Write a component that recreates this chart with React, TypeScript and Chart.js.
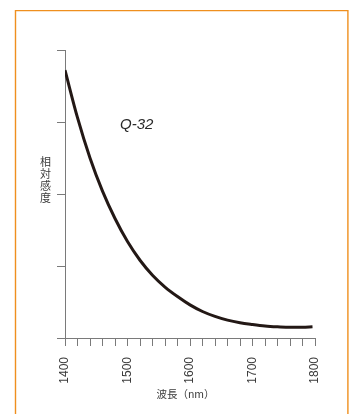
import React, { useEffect, useRef } from 'react';
import { Chart, registerables } from 'chart.js';

Chart.register(...registerables);

// Data
const wavelengths = [1400, 1420, 1440, 1460, 1480, 1500, 1520, 1540, 1560, 1580, 1600, 1620, 1640, 1660, 1680, 1700, 1720, 1740, 1760, 1780, 1796];
const sensitivity = [93, 76.5, 62.5, 51, 41.5, 33.5, 27, 21.8, 17.7, 14.4, 11.5, 9.2, 7.5, 6.2, 5.3, 4.7, 4.2, 3.9, 3.7, 3.7, 3.9];
const xMajorLabels = ['1400', '1500', '1600', '1700', '1800'];
const yTitleChars = ['相', '対', '感', '度'];
const xTitle = '波長（nm）';
const seriesName = 'Q-32';
const seriesLabelPos = { x: 1488, y: 74 };

const AXIS_COLOR = '#7a7a7a';
const TEXT_COLOR = '#3a3a3a';
const FRAME_COLOR = '#ef8f1e';

const textPlugin = {
  id: 'refTexts',
  afterDraw(chart: any) {
    const { ctx, chartArea, scales } = chart;
    const x = scales.x;
    const y = scales.y;
    ctx.save();
    // frame
    ctx.strokeStyle = FRAME_COLOR;
    ctx.lineWidth = 1.4;
    ctx.beginPath();
    ctx.moveTo(15.5, 430);
    ctx.lineTo(15.5, 10.6);
    ctx.lineTo(347.9, 10.6);
    ctx.lineTo(347.9, 430);
    ctx.stroke();

    // y title, stacked vertically
    ctx.fillStyle = TEXT_COLOR;
    ctx.font = '11px "Noto Sans CJK JP"';
    ctx.textAlign = 'center';
    ctx.textBaseline = 'middle';
    const yx = chartArea.left - 19.5;
    const y0 = chartArea.top + 112;
    yTitleChars.forEach((c, i) => ctx.fillText(c, yx, y0 + i * 12.1));

    // x title
    ctx.font = '10.5px "Noto Sans CJK JP"';
    ctx.textAlign = 'center';
    ctx.fillText(xTitle, (chartArea.left + chartArea.right) / 2 - 4.5, chartArea.bottom + 56);

    // series label
    ctx.font = 'italic 15px "Liberation Sans"';
    ctx.fillStyle = '#2a2a2a';
    ctx.textAlign = 'left';
    ctx.fillText(seriesName, x.getPixelForValue(seriesLabelPos.x), y.getPixelForValue(seriesLabelPos.y));
    ctx.restore();
  },
};

export default function App() {
  const ref = useRef<HTMLCanvasElement | null>(null);
  useEffect(() => {
    if (!ref.current) return;
    const chart = new Chart(ref.current, {
      type: 'line',
      data: {
        datasets: [
          {
            label: seriesName,
            data: wavelengths.map((w, i) => ({ x: w, y: sensitivity[i] })),
            borderColor: '#231815',
            borderWidth: 3,
            pointRadius: 0,
            cubicInterpolationMode: 'monotone',
            fill: false,
          },
        ],
      },
      options: {
        responsive: false,
        animation: false,
        layout: { padding: { left: 0, top: 50, right: 36, bottom: 0 } },
        plugins: { legend: { display: false }, tooltip: { enabled: false } },
        scales: {
          x: {
            type: 'linear',
            min: 1400,
            max: 1800,
            ticks: {
              stepSize: 20,
              autoSkip: false,
              maxRotation: 90,
              minRotation: 90,
              padding: 11,
              color: TEXT_COLOR,
              font: { family: '"Liberation Sans", Arial, sans-serif', size: 12 },
              callback: (v: any) => (xMajorLabels.includes(String(v)) ? String(v) : ''),
            },
            grid: { drawOnChartArea: false, drawTicks: true, tickLength: 8, color: AXIS_COLOR, lineWidth: 1 },
            border: { color: AXIS_COLOR, width: 1 },
            afterFit: (s: any) => {
              s.height = 76;
            },
          },
          y: {
            min: 0,
            max: 100,
            ticks: { stepSize: 25, display: false },
            grid: { drawOnChartArea: false, drawTicks: true, tickLength: 8, color: AXIS_COLOR, lineWidth: 1 },
            border: { color: AXIS_COLOR, width: 1 },
            afterFit: (s: any) => {
              s.width = 65;
            },
          },
        },
      },
      plugins: [textPlugin],
    });
    return () => chart.destroy();
  }, []);
  return (
    <div style={{ position: 'fixed', left: 0, top: 0, width: 351, height: 414, background: '#fff' }}>
      <canvas ref={ref} width={351} height={414} style={{ display: 'block' }} />
    </div>
  );
}
